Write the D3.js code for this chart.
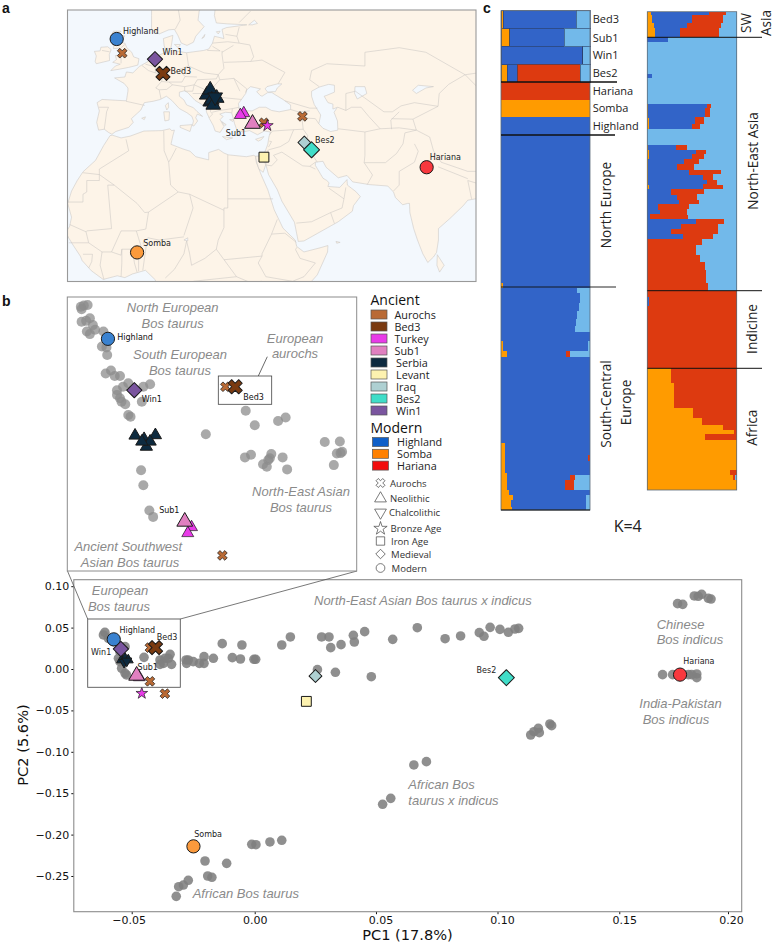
<!DOCTYPE html>
<html><head><meta charset="utf-8">
<script src="https://cdn.jsdelivr.net/npm/d3@7"></script>
<style>html,body{margin:0;padding:0;background:#fff}svg{display:block}</style></head>
<body><svg id="c" width="774" height="948"></svg>
<script>
// ---------- DATA ----------
const groupNames=["Aurochs","Bed3","Turkey","Sub1","Serbia","Levant","Iraq","Bes2","Win1"];
const groupColors=["#b96a35","#7a3a10","#e83be8","#e080c0","#0d2a3f","#fdf2b0","#aed0d2","#40ddc8","#7a559f"];
const modernNames=["Highland","Somba","Hariana"];
const modernMarkerColors=["#3a82d0","#fb9a3c","#f8383e"];
const modernSwatchColors=["#0f5fc8","#ff8000","#f20d0d"];
const shapeNames=["Aurochs","Neolithic","Chalcolithic","Bronze Age","Iron Age","Medieval","Modern"];

// map sites: group, shape, lon, lat
const mapSites=[
["Aurochs","x",-2.7,53.8],["Aurochs","x",34.5,38.6],["Aurochs","x",44.6,40],
["Serbia","t",20.4,43.2],["Serbia","t",19.5,44.7],["Serbia","t",20.4,45.8],["Serbia","t",22.1,44],["Serbia","t",20.8,43.6],["Serbia","t",21.2,42.5],["Serbia","v",21.7,44.2],
["Turkey","t",29.2,40.7],["Turkey","t",28.3,40.3],
["Turkey","s",35.4,38],["Sub1","t",31.5,38.4],
["Iraq","d",45.1,34.3],["Levant","q",34.5,31.1],
["Win1","d",5.9,52.5],["Bed3","x",8,49.4],["Bes2","d",47,32.7],
["Highland","c",-4.15,56.9],["Hariana","c",77.2,28.9],["Somba","c",1.2,10.3]];
const mapLabels=[["Highland",-2.5,58],["Win1",7.9,53.4],["Bed3",10,49.3],["Sub1",24.5,35.7],["Bes2",47.9,34.1],["Hariana",78,30.5],["Somba",2.8,11.7]];

// land outlines: [lon,lat]
const africa=[[6,4.3],[3.4,6.4],[0,5.6],[-2,4.8],[-4,5.2],[-7.7,4.4],[-10.8,6.3],[-13.2,8.5],[-13.7,9.5],[-15.6,11.9],[-16.7,13.4],[-17.5,14.7],[-16.5,16],[-16,18],[-17,21],[-16,23.7],[-14.5,26],[-13,27.9],[-9.7,30.4],[-7.6,33.6],[-5.9,35.8],[-5.3,35.9],[-3,35.3],[-0.6,35.7],[3,36.8],[7.7,36.9],[9.8,37.3],[10.3,36.9],[11,37],[10.6,35.8],[10.1,33.9],[13.2,32.9],[15.1,32.4],[16.6,31.2],[20,30.5],[20,32.1],[22.6,32.8],[24,32],[25.2,31.6],[29.9,31.2],[31.8,31.5],[32.3,31.3],[32.5,30],[33.8,27.2],[35.5,24],[37.2,19.6],[39.5,15.6],[42.7,13],[43.1,11.6],[45,10.4],[49.2,11.3],[51.3,11.8],[51.2,10.4],[48.5,5.4],[47,4],[47,0],[6,0]];
const eurasia=[[32.3,31.3],[34.3,31.4],[35,32.8],[35.5,33.9],[35.8,35.5],[36.2,36.6],[34.6,36.8],[32.8,36],[30.7,36.9],[29,36.6],[27.4,37],[26.8,38.4],[26.3,40],[26,40.8],[24.4,40.9],[22.9,40.5],[23.8,40],[23,39.3],[24,37.8],[23,36.5],[21.7,36.8],[21.2,38],[20.2,39.5],[19.4,41],[19.4,42],[18,42.7],[16.4,43.5],[14.5,45.2],[13.7,45.6],[12.3,45.3],[12.3,44.4],[13.5,43.6],[14.2,42.5],[16,41.9],[16.9,41.1],[18.4,40],[17,40.5],[16.6,39.7],[17.1,39],[16.1,37.9],[15.7,38],[16,39],[15.6,40],[14.3,40.8],[12.3,41.7],[10.3,43.5],[8.9,44.4],[7.3,43.7],[5.4,43.3],[3.1,43],[2.2,41.4],[-0.3,39.5],[0.2,38.7],[-1,37.6],[-4.4,36.7],[-5.4,36.1],[-6.3,36.5],[-7.4,37.2],[-8.9,37],[-9.4,38.7],[-8.7,41.2],[-9.3,43],[-8,43.7],[-3.8,43.5],[-1.6,43.4],[-1.2,45.5],[-1.2,46.2],[-2.2,47.2],[-4.7,48.4],[-2,48.6],[-1.6,49.7],[0.1,49.5],[1.8,50.9],[4.1,52],[4.8,53],[7,53.4],[8.8,54],[8.3,55.5],[8.1,57],[10.6,57.7],[10.4,56.5],[10,54.5],[12,54.2],[14.2,53.9],[18.7,54.4],[20,54.7],[21,56],[21.5,57.5],[24,57],[23.5,59],[24.7,59.4],[30,60],[25,60.2],[22,60.4],[21.5,62],[22,66],[95,66],[95,22],[91.8,22.3],[90,22],[88,21.7],[86.8,20.5],[83.3,17.7],[80.3,15.5],[80.3,13],[79.8,10.3],[79,9.3],[77.5,8.1],[76.2,10],[74.8,13],[73.8,15.5],[72.8,19],[72.7,21],[72.2,21],[70.9,20.7],[69,22.3],[68.5,23.5],[67,24.8],[62.3,25.1],[57.8,25.7],[56.3,27.1],[54,26.6],[50.8,28.9],[50,30.2],[48,30],[48,29.3],[50,26.5],[51,26],[51.6,25.5],[51.3,24.7],[54.4,24.5],[55.3,25.3],[56.3,26.2],[56.4,25],[58.6,23.6],[59.8,22.5],[58,20.5],[57.7,19.3],[54,17],[45,12.8],[43.5,12.7],[43,14.8],[42.5,16.9],[39.2,21.5],[38,24],[35.7,27.3],[35,29.5],[34.3,27.8],[33.2,28.5],[32.6,30]];
const scandinavia=[[5,66],[5,62],[5,59],[7,58],[9.5,58.9],[11,59],[11.9,57.7],[12.8,56],[14.3,55.5],[16,56.2],[16.6,57.5],[18.8,59.6],[17.2,61],[17.5,63],[20,66]];
const britain=[[-5.7,50],[-3.5,50.3],[-1,50.7],[1.4,51.2],[1.7,52.6],[0.3,53],[-0.2,54],[-1.5,55],[-2,56],[-3.3,56.1],[-2,57.6],[-4,57.7],[-3,58.6],[-5,58.6],[-5.8,57.5],[-5.6,56.3],[-4.9,55.5],[-5,54.8],[-3.5,54.9],[-3,54],[-3,53.4],[-4.5,53.3],[-4.2,52.4],[-5.2,51.8],[-3.2,51.4],[-4.5,51]];
const ireland=[[-6,52.2],[-6.1,53.5],[-5.6,54.6],[-6.5,55.2],[-8.3,55.1],[-8.5,54.3],[-10,54.2],[-9.5,53.2],[-9.8,52],[-9.5,51.5],[-8,51.8]];
const islands=[
[[12.5,38],[15.6,38.2],[15.1,36.7],[12.5,37.6]],
[[8.2,41],[9.7,41],[9.6,39.2],[8.5,39]],
[[8.6,42.4],[9.4,43],[9.5,42],[9,41.4]],
[[23.6,35.6],[26.3,35.3],[24.7,34.9]],
[[32.3,35],[34.5,35.6],[33.8,34.9],[33,34.6]],
[[80,9.8],[81.8,7.5],[80.6,6],[79.9,7.5]],
[[53.4,12.7],[54.5,12.5],[53.6,12.3]],
[[2.4,39.6],[3.4,39.9],[3.1,39.3]],
[[11,55.7],[12.6,55.7],[12,55]],
[[18.2,57],[19,57.9],[18.8,57.3]],
[[22,58.5],[23,58.6],[22.5,58]],
[[25.5,39.3],[26.6,39.3],[26.3,38.9]],
[[27.8,36.2],[28.2,36.4],[27.9,35.9]],
[[23.4,38.9],[24.6,38.2],[24.2,38]]];
const inlandWater=[
[[28,41.6],[29,41.2],[31.4,41.2],[33.3,42],[35,42],[36.5,41.3],[38.5,41],[41.5,41.5],[41.5,42.5],[39.5,43.7],[37.5,44.7],[36.6,45.2],[35.5,45.2],[34,44.4],[33.5,44.6],[32.6,45.4],[33.6,46],[31,46.5],[30,45.8],[29.7,45],[28.6,43.7],[27.8,42.8]],
[[34.8,46],[35.3,46.5],[38,47.1],[39.2,47.1],[38,46.2],[37.5,45.4],[36.6,45.4],[35.5,45.3]],
[[47,45.5],[49,46.4],[51.5,47],[53,46.8],[53,45.3],[51,44.6],[50.3,44.4],[51.3,43],[52.6,42.7],[52.6,41.6],[53.8,42],[52.9,40.9],[53.8,39],[53.9,37],[52,36.7],[50,37.4],[48.9,38.4],[49.4,40.3],[47.7,42.6],[47,44.4]],
[[58.4,46.5],[61,46.5],[61.5,45],[59,43.8],[58.3,45]],
[[27,40.4],[27.5,41],[29,41],[29.5,40.5],[27.5,40.4]],
[[73.5,45.7],[75,46.8],[79,46.5],[77,46.2],[74.5,45]],
[[30.5,60],[32,61],[32.8,60.3],[31.5,60]],
[[13.5,13],[14.5,13.5],[14.5,12.8]]];
const borders=[
[[-1.7,35],[-1,32.5],[-8.7,28.5],[-8.7,27.3],[-13,27.7]],[[-17,21.3],[-13,21.3],[-13,23],[-12,23.5],[-12,26],[-8.7,26],[-8.7,27.3],[-4.8,25]],
[[-4.8,25],[-6.5,25],[-5.5,15.5],[-12,15],[-12.2,14.8],[-16.5,16.4]],[[-4.8,25],[1.2,21],[3.2,19],[4.2,19.1],[12,23.5]],
[[12,23.5],[10,25],[9.5,30],[10.2,31],[11.5,33.1]],[[8.2,36.9],[8.3,32.5],[9.5,30]],[[25,31.6],[25,22],[25,20],[24,20],[24,19.5],[15,23],[12,23.5]],
[[15,23],[15.9,20],[13.5,14]],[[4.2,19.1],[3.5,15.4],[1,15]],[[-5.5,10.4],[-3,15],[1,15],[2.3,11.5],[0,11],[-2.8,11],[-3,9.7],[-5.5,10.4]],
[[2.7,12.3],[4,13.5],[7,13],[13.5,13.7]],[[2.7,6.4],[3.6,11.7],[2.7,12.3]],[[1.6,6.2],[1.6,9],[0.9,11]],[[1.2,6],[0.5,8],[0,11]],[[-3,5],[-2.8,8],[-2.8,11]],
[[-7.5,4.4],[-8.5,7.5],[-8,10.4],[-5.5,10.4]],[[-11.5,12.4],[-8,10.4]],[[-16.7,12.4],[-11.5,12.4],[-12.2,14.8]],[[-13,9.9],[-10.5,9.9],[-10.7,8.3],[-11.5,6.9]],
[[8.6,4.7],[11,6.6],[13.5,10],[14.2,12.8]],[[14.2,12.8],[15,10],[15.5,7.5]],[[15.5,7.5],[19,9],[22,11]],[[24,19.5],[24,15.7],[22.5,13],[22,11]],[[22,11],[27.3,5]],
[[16,4],[27.3,5]],[[24,8.7],[34,9.5]],[[27.3,5],[31,3.7],[34,4]],[[36.5,14.3],[34,10],[34,9.5],[33,8],[35,5]],[[36.5,14.3],[38,17.5]],[[36.5,14.3],[40,14.5],[43,12.5]],
[[25,22],[36.9,22]],[[43.1,11.4],[42.8,10.9],[44,9],[48,8],[45,5],[42,4]],[[35,5],[42,4]],[[34.9,29.5],[34.3,31.3]],
[[35,29.5],[35.6,32.7]],[[35.9,34.6],[36.5,34.5],[35.7,33.3]],[[36,36],[36.7,36.8],[42.3,37.1]],[[42.3,37.1],[41,34.5],[38.8,33.4]],[[35.7,32.7],[38.8,33.4]],
[[35,29.4],[36.5,29.2],[38,30.5],[37,31.5],[39.2,32.2]],[[39.2,32.2],[44.7,29.2],[46.5,29.1]],[[46.5,29.1],[48,28.5]],[[46.5,29.1],[48,30]],[[44.8,37.2],[46,35.8],[45.5,34],[47.7,31],[48.5,30]],
[[42.3,37.1],[44.8,37.2]],[[44.8,37.2],[44.5,39.5]],[[41.5,41.5],[43.5,41],[44.5,39.7]],[[44.8,39.7],[48,39.5],[48.9,38.4]],[[40,43.4],[46.5,41.8],[48.5,41.8]],[[43.5,41],[46.5,41.2]],
[[54,37.3],[61,36.6]],[[61,36.6],[61,31.4],[60.8,29.9]],[[60.8,29.9],[63,27.2],[61.6,25.1]],[[60.8,29.9],[66.4,29.9],[69.3,31.9],[71,34],[71.5,36.4],[74.5,37]],[[61,36.6],[65,37.3],[70,37.5],[74.5,37]],
[[53.9,42],[56,41.3],[57.5,42],[60,42],[62,40],[65,37.3]],[[56,45],[56,41.3]],[[56,45],[58.5,45.5],[61,44],[66,41],[68.2,41],[70.5,42.3]],[[70.5,42.3],[74,43],[80.2,42.2]],[[68,39.5],[73.6,39.4]],[[68,37.2],[67.8,39.2],[70,41]],
[[74.5,37],[73.6,39.4],[80.2,42.2],[80.5,45],[83,47],[87.3,49.1]],[[46.5,48],[47,50],[51,51.5],[61,51],[61,54],[70,55],[77,54],[87.3,49.1]],[[49,46.5],[46.5,48]],[[87.3,49.1],[95,50]],[[87.3,49.1],[91,46],[95,43]],
[[74.5,37],[78,35.5],[79,32.5],[81,30],[88,28],[92,28],[97,28]],[[74,34],[75,32.4],[74,30],[70,28],[70,25],[68.5,23.7]],[[80.2,29],[88,26.4]],[[88,26],[89,22]],[[88,26],[92,25],[92,21]],
[[43,16.7],[47,17],[52,19],[55,20]],[[55,20],[55.5,22],[56,24.5]],[[53,16.6],[52,19]],[[51.6,24.3],[55.5,22]],
[[-8.8,42],[-6.3,42],[-6.8,41],[-7,39.7],[-7.4,37.2]],[[-1.7,43.3],[3.2,42.4]],[[2.5,51.1],[4.2,50],[6,49.5]],[[6,49.5],[8.2,49],[7.6,47.6]],[[7.6,47.6],[6.1,46.2],[7,45.8],[7.5,43.8]],[[7.6,47.6],[9.6,47.5],[10.5,46.9],[9,45.9],[7,45.8]],
[[3.4,51.4],[6,50.8],[7,52.2],[7.2,53.3]],[[6,50.8],[6,49.5]],[[8.7,54.9],[9.8,54.8]],[[14.2,53.9],[14.7,51]],[[14.7,51],[12.2,50.2],[13.8,48.7]],[[9.6,47.5],[13,47.5],[13.8,48.7],[16.9,48.6]],[[10.5,46.9],[13.7,46.5],[16.2,46.9],[17,48]],[[13.7,46.5],[13.7,45.6]],
[[14.7,51],[18.8,49.5],[22.5,49.1]],[[17,48],[22,48.2],[22.5,49.1],[22.9,48]],[[22.5,49.1],[24,50.5],[23.5,53.5],[23.5,54.3]],[[19.6,54.4],[23,54.3],[21,55.3]],[[21,56],[25,56.3],[28,56]],[[23.5,54],[26.5,55.5]],[[24.4,57.9],[27.4,57.5]],[[28,59.5],[27.4,57.5],[28,56],[30.8,55.6]],
[[30.8,55.6],[31.8,53],[31,52]],[[24,51.8],[31,52]],[[31,52],[34,52.3],[40,49.6],[38.2,47.1]],[[22.9,48],[26.6,48.3],[30,46],[29.7,45.2]],[[26.6,48.3],[28.2,45.5]],[[22.9,48],[21,46.2]],[[16.2,46.9],[18.9,45.9],[21,46.2]],[[21,46.2],[22.5,44.2],[28.6,43.7]],[[22.5,44.2],[22.9,42.3],[21.5,42.2]],[[22.9,41.3],[26.2,41.7],[28,42]],
[[15.8,45],[19,45],[19.4,43.2],[18.4,42.5]],[[13.7,45.5],[15.8,45.5],[16.2,46.9]],[[19.4,43.2],[19.4,42],[20.5,42],[20.5,41],[21,40.5],[20.1,39.7]],[[20.9,40.9],[22.9,41.3]],[[26.1,40.8],[26.2,41.7]],[[11.2,59],[12.5,61],[12,63.5]],[[28,60.5],[31,63]],[[-8,54.4],[-6,54.1]],[[-3,55],[-2,55.7]],[[-3,53.3],[-3,51.6]]];

// PCA main panel: grey samples [PC1,PC2]
const pcaSamples=[
[-.0609,.0443],[-.0615,.0411],[-.0595,.0370],[-.0575,.0330],[-.0527,.0270],[-.0548,.0209],[-.0554,.0129],[-.0548,.0089],[-.0541,.0008],[-.0527,-.0052],[-.0521,-.0072],[-.0450,.0141],[-.0385,.0109],[-.0344,.0177],[-.0351,.0129],[-.0371,.0068],[-.0338,.0056],[-.0385,.0056],[-.0365,.0129],
[-.0279,.0109],[-.0270,.0109],[-.0250,.0089],[-.0277,.0068],[-.0225,.0068],[-.0206,.0068],[-.0206,.0149],[-.0168,.0129],[-.0132,.0306],[-.0052,.0290],[-.0091,.0137],[-.0058,.0121],[-.0003,.0117],[.0004,.0117],[.0110,.0290],[.0145,.0387],[.0272,.0387],[.0302,.0387],[.0309,.0258],[.0351,.0294],[.0401,.0407],[.0405,.0326],[.0447,.0451],[.0561,.0358],[.0255,-.0008],[.0328,-.0040],[.0474,-.0093],
[.0661,.0499],[.0774,.0366],[.0837,.0399],[.0913,.0439],[.0932,.0395],[.0957,.0503],[.0997,.0479],[.1031,.0443],[.1058,.0483],[.1073,.0491],
[.1719,.0789],[.1740,.0781],[.1787,.0882],[.1817,.0902],[.1803,.0878],[.1844,.0854],[.1855,.0845],
[.1658,-.0068],[.1699,-.0068],[.1736,-.0068],[.1763,-.0068],[.1797,-.0060],[.1797,-.0105],[.1776,-.0068],
[.1122,-.0797],[.1135,-.0757],[.1153,-.0717],[.1157,-.0769],[.1200,-.0664],[.1207,-.0684],
[.0647,-.1159],[.0698,-.1119],[.0520,-.1634],[.0553,-.1562],
[-.0012,-.2118],[.0005,-.2122],[.0062,-.2089],[.0110,-.2069],[-.0202,-.2319],[-.0114,-.2347],[-.0191,-.2500],[-.0174,-.2516],[-.0270,-.2552],[-.0290,-.2609],[-.0309,-.2629],[-.0319,-.2746]];
const pcaAncient=[
["Aurochs","x",-.0426,.0258],["Aurochs","x",-.0426,-.0149],["Aurochs","x",-.0365,-.0298],["Turkey","s",-.0459,-.0294],
["Serbia","t",-.0541,.0109],["Serbia","t",-.0527,.0129],["Serbia","t",-.0514,.0109],["Serbia","v",-.0531,.0081],["Serbia","v",-.0520,.0097],
["Turkey","t",-.0469,-.0100],["Sub1","t",-.0480,-.0080],["Bed3","x",-.0403,.0258],
["Iraq","d",.0247,-.0085],["Levant","q",.0210,-.0391],["Bes2","d",.1023,-.0105],
["Highland","c",-.0573,.0358],["Win1","d",-.0544,.0242],["Hariana","c",.1729,-.0068],["Somba","c",-.0249,-.2142]];
const pcaLabels=[["Highland",-.0550,.0435],["Bed3",-.0398,.0350],["Win1",-.0665,.0170],["Sub1",-.0476,-.0012],["Bes2",.0902,-.0044],["Hariana",.1742,.0057],["Somba",-.0246,-.2030]];

// inset panel
const insetSamples=[
[-.0611,.0427],[-.0607,.0430],[-.0602,.0431],[-.0610,.0421],[-.0610,.0392],[-.0604,.0394],[-.0599,.0400],[-.0595,.0384],[-.0603,.0369],[-.0599,.0363],[-.0592,.0373],[-.0581,.0369],[-.0583,.0334],[-.0577,.0332],[-.0576,.0314],
[-.0578,.0271],[-.0571,.0278],[-.0566,.0265],[-.0559,.0265],[-.0548,.0248],[-.0555,.0240],[-.0563,.0232],[-.0563,.0221],[-.0559,.0213],[-.0557,.0205],[-.0552,.0199],[-.0519,.0246],[-.0528,.0240],[-.0530,.0205],[-.0548,.0174],[-.0545,.0170],
[-.0531,.0045],[-.0528,.0010],[-.0520,-.0049],[-.0515,-.0064],
[-.0445,.0129],[-.0392,.0184],[-.0380,.0150],[-.0349,.0160],[-.0339,.0168],[-.0393,.0075],[-.0385,.0081],[-.0369,.0059],[-.0364,.0053],[-.0362,.0069],[-.0358,.0083],[-.0360,.0073],[-.0343,.0075],[-.0337,.0047],
[-.0287,.0111],[-.0267,.0112],[-.0271,.0084],[-.0264,.0088],[-.0266,.0085],[-.0275,.0057]];
const insetAncient=[
["Aurochs","x",-.0419,.0240],["Aurochs","x",-.0423,-.0154],
["Serbia","t",-.0539,.0126],["Serbia","t",-.0527,.0118],["Serbia","t",-.0512,.0127],["Serbia","t",-.0524,.0100],["Serbia","t",-.0519,.0112],["Serbia","t",-.0530,.0112],
["Turkey","t",-.0464,-.0088],["Turkey","t",-.0469,-.0102],["Sub1","t",-.0473,-.0075],
["Bed3","x",-.0406,.0240],["Highland","c",-.0575,.0352],["Win1","d",-.0540,.0232]];
const insetLabels=[["Highland",-.05626,.03493],["Win1",-.0530,.0205],["Bed3",-.03952,.0208],["Sub1",-.0507,-.00541]];

// K=4 admixture: [rows, orange, blue, red, lightblue]
const admixKeys=["orange","blue","red","light"];
const admixColors={orange:"#ff9b00",blue:"#3264c8",red:"#dd3a10",light:"#72b9ea"};
const admixLeft=[
[17.7,.025,.82,0,.155],[17.7,.1,.61,0,.29],[18,0,.92,0,.08],[17.7,.07,.11,.71,.11],[17.7,0,0,1,0],[17.3,1,0,0,0],[18.3,0,1,0,0],
[147,0,1,0,0],[5,.02,.98,0,0],
[5,0,.858,0,.142],[10,0,.888,0,.112],[8,0,.88,0,.12],[8,0,.858,0,.142],[7,0,.843,0,.157],[6,0,.828,0,.172],[9,0,1,0,0],[10,.02,.96,0,.02],[6,.065,.66,.05,.225],
[86,0,1,0,0],[12,.04,.96,0,0],[6,.04,.94,.02,0],[12,.04,.96,0,0],[2,.07,.93,0,0],[5,.07,.70,.06,.17],[10,.07,.65,.10,.18],[5,.095,.905,0,0],[5,.13,.83,0,.04],[7,.11,.85,0,.04],[3,.125,.83,0,.045]];
const admixRight=[
[3.3,.037,.65,.19,.123],[8,.05,.45,.35,.15],[5,.07,.37,.385,.175],[9,.09,.28,.43,.2],
[5.3,0,.235,0,.765],[31,0,0,0,1],[4.7,0,.055,0,.945],[25.3,0,0,0,1],
[5,.01,.655,.05,.285],[9,.01,.63,.06,.30],[6,.02,.515,.095,.37],[5,.02,.48,.085,.415],[15.7,0,0,0,1],
[5,.01,.31,.12,.56],[5,.015,.525,.115,.345],[5,.015,.485,.13,.37],[5,.01,.40,.17,.42],[5,.01,.32,.195,.475],[5,.01,.46,.35,.18],[5,.01,.617,.105,.268],[5,.01,.655,.12,.215],[5,.02,.60,.225,.155],[5,0,.26,.377,.363],[5,0,.33,.23,.44],[5,0,.36,.22,.42],
[5,0,.12,.345,.535],[5,0,.14,.30,.56],[4.5,0,.03,.42,.55],[5,0,.55,.306,.144],[5,0,.38,.41,.21],[5,0,.27,.52,.21],[5,0,.40,.335,.265],
[5.7,0,0,.615,.385],[10,0,0,.55,.45],[6.5,0,0,.59,.41],[8.5,0,0,.645,.355],[13,0,0,.66,.34],[7.7,0,0,.68,.32],
[6,0,0,1,0],[10,0,.02,.98,0],[15.3,0,0,1,0],[.6,0,0,0,0],[45.2,0,0,1,0],
[15,.26,0,.74,0],[25,.30,0,.70,0],[10,.515,0,.485,0],[6.7,.616,0,.384,0],[5,.85,0,.15,0],[4,.97,0,.03,0],[1,1,0,0,0],[4.7,.64,0,.36,0],[30.7,1,0,0,0],[5,.925,0,.075,0],[5,.955,0,.03,.015],[10,1,0,0,0]];
const leftLabels=["Bed3","Sub1","Win1","Bes2","Hariana","Somba","Highland"];

const yTickValues=[.10,.05,0,-.05,-.10,-.15,-.20,-.25];
const xTickLabels=["\u22120.05","0.00","0.05","0.10","0.15","0.20"];
const xTickPlaces=[-.05,0,.0493,.0987,.1482,.1924];
const xLabelShift=[-3,0,4.5,4.5,5,3];

// ---------- DRAW ----------
const svg=d3.select("#c");
const SANS="'Liberation Sans',Arial,sans-serif",DJ="'DejaVu Sans',sans-serif",OS="'Open Sans',sans-serif";
const colorOf=n=>{let i=groupNames.indexOf(n);if(i>=0)return groupColors[i];return modernMarkerColors[modernNames.indexOf(n)];};
const shapeTypes={x:d3.symbolCross,t:d3.symbolTriangle,v:d3.symbolTriangle,s:d3.symbolStar,q:d3.symbolSquare,d:d3.symbolSquare,c:d3.symbolCircle};
const shapeRot={x:45,t:0,v:180,s:0,q:0,d:45,c:0};
const baseSize={x:62,t:62,v:62,s:42,q:72,d:75,c:110};
const sizeBoost={Bed3:2,Sub1:1.75,Win1:1.55,Bes2:1.7,Highland:1.25,Somba:1.25,Hariana:1.25,Serbia:1.5,Iraq:1.1,Aurochs:.95,Levant:1.35};
function marker(g,d,xs,ys,serbiaK=1){
  const [grp,sh,x,y]=d;
  const size=baseSize[sh]*(sizeBoost[grp]||1)*(grp==="Serbia"?serbiaK:1);
  g.append("path").attr("d",d3.symbol().type(shapeTypes[sh]).size(size)())
   .attr("transform",`translate(${xs(x)},${ys(y)}) rotate(${shapeRot[sh]})`)
   .attr("fill",colorOf(grp)).attr("stroke","#1a1a1a").attr("stroke-width",grp==="Aurochs"||grp==="Turkey"?.7:1).attr("stroke-linejoin","round");
}
function note(g,t,x,y,size,fam,opt={}){
  return g.append("text").attr("x",x).attr("y",y).attr("font-size",size).attr("font-family",fam)
   .attr("fill",opt.fill||"#111").attr("text-anchor",opt.anchor||"start").attr("font-style",opt.italic?"italic":null).attr("font-weight",opt.bold?"bold":null).text(t);
}
note(svg,"a",2,13,14,SANS,{bold:1});note(svg,"b",2,306,14,SANS,{bold:1});note(svg,"c",483,13,14,SANS,{bold:1});

// ----- map
const mapX=d3.scaleLinear().domain([0,1]).range([132.5,136.31]);
const mapY=d3.scaleLinear().domain([0,1]).range([299.6,295.02]);
const mapLine=d3.line().x(d=>mapX(d[0])).y(d=>mapY(d[1]));
svg.append("clipPath").attr("id","mc").append("rect").attr("x",67.5).attr("y",10).attr("width",408.5).attr("height",271.5);
const m=svg.append("g").attr("clip-path","url(#mc)");
m.append("rect").attr("x",67).attr("y",10).attr("width",410).attr("height",272).attr("fill","#f3f8fd");
const LAND="#fdf4e8",EDGE="#c9c7c3";
[africa,eurasia,scandinavia,britain,ireland,...islands].forEach(r=>m.append("path").attr("d",mapLine(r)+"Z").attr("fill",LAND).attr("stroke",EDGE).attr("stroke-width",.55));
inlandWater.forEach(r=>m.append("path").attr("d",mapLine(r)+"Z").attr("fill","#f3f8fd").attr("stroke",EDGE).attr("stroke-width",.55));
borders.forEach(r=>m.append("path").attr("d",mapLine(r)).attr("fill","none").attr("stroke",EDGE).attr("stroke-width",.55));
svg.append("rect").attr("x",67.5).attr("y",10).attr("width",408.5).attr("height",271.5).attr("fill","none").attr("stroke","#999").attr("stroke-width",1.1);
const mg=svg.append("g");
mapSites.forEach(d=>marker(mg,d,mapX,mapY,1));
mapLabels.forEach(d=>note(mg,d[0],mapX(d[1]),mapY(d[2]),8,DJ,{fill:"#222"}));

// ----- main PCA
const px=d3.scaleLinear().domain([-.07354,.19797]).range([73.8,741.7]);
const py=d3.scaleLinear().domain([.10749,-.29312]).range([580,911.7]);
const plot=svg.append("g");
const GREY="#808080";
plot.selectAll("circle").data(pcaSamples).join("circle").attr("cx",d=>px(d[0])).attr("cy",d=>py(d[1])).attr("r",4.8).attr("fill",GREY).attr("fill-opacity",.88);
pcaAncient.forEach(d=>marker(plot,d,px,py,.46));
pcaLabels.forEach(d=>note(plot,d[0],px(d[1]),py(d[2]),8,DJ,{fill:"#222"}));
const ya=d3.axisLeft(py).tickValues(yTickValues).tickSize(2.5).tickPadding(2).tickFormat(d=>d3.format(".2f")(d).replace("-","\u2212"));
const yg=svg.append("g").attr("transform","translate(73.8,0)").call(ya);
const xa=d3.axisBottom(px).tickValues(xTickPlaces).tickSize(2.5).tickPadding(2.5).tickFormat((d,i)=>xTickLabels[i]);
const xg=svg.append("g").attr("transform","translate(0,911.7)").call(xa);
[yg,xg].forEach(g=>{g.select(".domain").remove();g.selectAll("line").attr("stroke","#111");g.selectAll("text").attr("font-family",DJ).attr("font-size",11).attr("fill","#111");});
xg.selectAll("text").attr("dx",(d,i)=>xLabelShift[i]);
svg.append("rect").attr("x",73.8).attr("y",579.7).attr("width",667.9).attr("height",332).attr("fill","none").attr("stroke","#8c8c8c").attr("stroke-width",1.1);
note(svg,"PC1 (17.8%)",407.5,940,14.6,DJ,{anchor:"middle"});
note(svg,"PC2 (5.6%)",0,0,14.6,DJ,{anchor:"middle"}).attr("transform","translate(28,745) rotate(-90)");
svg.append("rect").attr("x",87.7).attr("y",619).attr("width",92.6).attr("height",68.3).attr("fill","none").attr("stroke","#555").attr("stroke-width",.9);
svg.append("line").attr("x1",67.5).attr("y1",571).attr("x2",87.7).attr("y2",619).attr("stroke","#555").attr("stroke-width",.8);
svg.append("line").attr("x1",357).attr("y1",571).attr("x2",180.3).attr("y2",619).attr("stroke","#555").attr("stroke-width",.8);
const gi={fill:"#8a8a8a",italic:1};
const GS=13;
note(svg,"European",120,595,GS,SANS,{...gi,anchor:"middle"});
note(svg,"Bos taurus",119,610.5,GS,SANS,{...gi,anchor:"middle"});
note(svg,"North-East Asian Bos taurus x indicus",314,605,GS,SANS,gi);
note(svg,"Chinese",656.7,629,GS,SANS,gi);note(svg,"Bos indicus",656.7,644.3,GS,SANS,gi);
note(svg,"India-Pakistan",639.3,708,GS,SANS,gi);note(svg,"Bos indicus",642.7,724,GS,SANS,gi);
note(svg,"African Bos",408.3,789,GS,SANS,gi);note(svg,"taurus x indicus",408.3,804.7,GS,SANS,gi);
note(svg,"African Bos taurus",192.7,898,GS,SANS,gi);

// ----- inset
const ix=d3.scaleLinear().domain([-.0629,-.02446]).range([67.3,356.7]);
const iy=d3.scaleLinear().domain([.04497,-.01904]).range([297,571]);
const ins=svg.append("g");
ins.append("rect").attr("x",67.3).attr("y",297).attr("width",289.4).attr("height",274).attr("fill","#fff").attr("stroke","#8c8c8c").attr("stroke-width",1);
ins.selectAll("circle").data(insetSamples).join("circle").attr("cx",d=>ix(d[0])).attr("cy",d=>iy(d[1])).attr("r",5).attr("fill","#8c8c8c").attr("fill-opacity",.75);
insetAncient.forEach(d=>marker(ins,d,ix,iy,.7));
insetLabels.forEach(d=>note(ins,d[0],ix(d[1]),iy(d[2]),8,DJ,{fill:"#111"}));
ins.append("rect").attr("x",218.3).attr("y",376).attr("width",53.4).attr("height",28.3).attr("fill","none").attr("stroke","#444").attr("stroke-width",.8);
ins.append("line").attr("x1",258.3).attr("y1",376).attr("x2",267.3).attr("y2",356.7).attr("stroke","#444").attr("stroke-width",.8);
const insetTexts=[["North European",172.7,311.7],["Bos taurus",172.7,327.7],["South European",180,359.3],["Bos taurus",180,375.3],["European",295,342.7],["aurochs",295,358.3],["North-East Asian",301,495.7],["Bos taurus",301,511.7],["Ancient Southwest",128.3,550.7],["Asian Bos taurus",130,566.7]];
insetTexts.forEach(t=>note(ins,t[0],t[1],t[2],GS,SANS,{...gi,anchor:"middle"}));

// ----- legend
const leg=svg.append("g");
note(leg,"Ancient",370.5,305,14,OS);
const ly=d3.scaleLinear().domain([0,1]).range([310,322]);
groupNames.forEach((n,i)=>{
 leg.append("rect").attr("x",371).attr("y",ly(i)).attr("width",16).attr("height",9).attr("fill",groupColors[i]).attr("stroke","#555").attr("stroke-width",.7);
 note(leg,n,i<4?394.5:396,ly(i)+8.5,10.8,OS,{fill:"#222"});
});
note(leg,"Modern",370.5,433,14,OS);
const lm=d3.scaleLinear().domain([0,1]).range([437.5,449.3]);
modernNames.forEach((n,i)=>{
 leg.append("rect").attr("x",372.5).attr("y",lm(i)).attr("width",16).attr("height",9).attr("fill",modernSwatchColors[i]).attr("stroke","#555").attr("stroke-width",.7);
 note(leg,n,397,lm(i)+8.5,10.8,OS,{fill:"#222"});
});
const sKeys=["x","t","v","s","q","d","c"],sY=[483,498.5,512.5,528.5,541,554,568],sTx=[390,390,389,390.5,391,391,391.5];
shapeNames.forEach((n,i)=>{
 const sh=sKeys[i];
 leg.append("path").attr("d",d3.symbol().type(shapeTypes[sh]).size(sh==="s"?55:sh==="x"?50:sh==="q"?70:sh==="d"?45:60)())
  .attr("transform",`translate(380.5,${sY[i]}) rotate(${shapeRot[sh]})`).attr("fill","#fff").attr("stroke","#444").attr("stroke-width",.7);
 note(leg,n,sTx[i],sY[i]+3.5,9.6,OS,{fill:"#333"});
});

// ----- admixture
function admix(rows,x0,x1,y0,y1,outlined){
  const table=rows.map(r=>({weight:r[0],orange:r[1],blue:r[2],red:r[3],light:r[4]}));
  const series=d3.stack().keys(admixKeys)(table);
  let c=0;const starts=table.map(t=>{const s=c;c+=t.weight;return s;});
  const ys=d3.scaleLinear().domain([0,c]).range([y0,y1]);
  const xs=d3.scaleLinear().domain([0,1]).range([x0,x1]);
  const g=svg.append("g").attr("shape-rendering","crispEdges");
  series.forEach(s=>{
    g.append("g").attr("fill",admixColors[s.key]).selectAll("rect").data(s).join("rect")
     .attr("x",d=>xs(d[0])).attr("width",d=>Math.max(0,xs(d[1])-xs(d[0])))
     .attr("y",(d,i)=>ys(starts[i])).attr("height",(d,i)=>ys(starts[i]+table[i].weight)-ys(starts[i])+.4)
     .attr("stroke",(d,i)=>i<outlined&&d[1]>d[0]?"#2a3c60":"none").attr("stroke-width",.6);
  });
  svg.append("rect").attr("x",x0).attr("y",y0).attr("width",x1-x0).attr("height",y1-y0).attr("fill","none").attr("stroke","#5a6a78").attr("stroke-width",.8);
}
admix(admixLeft,501,590,10.7,510,4);
admix(admixRight,647.3,736.7,11.7,490,0);
[[501,617,82,1.3],[501,615,135,1.3],[501,616,287,.9],[501,590,510,1.2],[647.3,762,37.3,1],[647.3,762,290.7,1],[647.3,762,368.3,1]]
 .forEach(l=>svg.append("line").attr("x1",l[0]).attr("x2",l[1]).attr("y1",l[2]).attr("y2",l[2]).attr("stroke","#111").attr("stroke-width",l[3]));
const labY=[23,41.7,59,77,95,111.7,130];
leftLabels.forEach((t,i)=>note(svg,t,592.7,labY[i],11,OS,{fill:"#222"}));
function rot(t,x,y,s){note(svg,t,0,0,s,OS,{fill:"#222",anchor:"middle"}).attr("transform",`translate(${x},${y}) rotate(-90)`);}
rot("North Europe",611,205,13.6);rot("South-Central",611,404,13.6);rot("Europe",630.5,402.5,13.6);
rot("SW",751,23,13.6);rot("Asia",771,23,13.6);rot("North-East Asia",758,161,13.6);rot("Indicine",757,329,13.6);rot("Africa",757,427.7,13.6);
note(svg,"K=4",627.7,531.5,16,OS,{fill:"#222",anchor:"middle"});
</script></body></html>
